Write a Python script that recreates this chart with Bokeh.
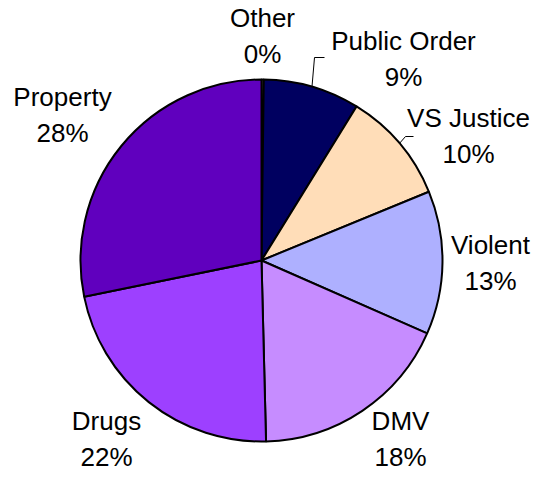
import math
from bokeh.plotting import figure
from bokeh.models import Range1d, ColumnDataSource
from bokeh.core.properties import value
from bokeh.embed import file_html
from bokeh.resources import INLINE

# ---- data ----
categories = ["Other", "Public Order", "VS Justice", "Violent", "DMV", "Drugs", "Property"]
shares = [0.2, 8.6, 10.0, 12.8, 18.0, 22.2, 28.2]
colors = ["#D8D8D8", "#000060", "#FFDDB8", "#AEB0FF", "#C68CFF", "#9D40FF", "#6000BE"]

# ---- layout (screen px, y down) ----
W, H = 537, 471
CX, CY, R = 261, 260, 181
label_pos = {
    "Other": (262, 35),
    "Public Order": (403, 58),
    "VS Justice": (468, 135),
    "Violent": (490, 262),
    "DMV": (400, 438),
    "Drugs": (106, 438),
    "Property": (62, 114),
}
leader_bend = {
    "Public Order": [(314, 57), (324, 57)],
    "VS Justice": [(405, 136), (413, 136)],
}

p = figure(width=W, height=H, output_backend="svg", toolbar_location=None,
           x_range=Range1d(0, W), y_range=Range1d(-H, 0),
           min_border=0)
p.axis.visible = False
p.grid.visible = False
p.outline_line_color = None
p.background_fill_color = "white"

total = sum(shares)
starts, ends, mids = [], [], []
cum = 0.0
for s in shares:
    a0 = cum / total * 2 * math.pi
    cum += s
    a1 = cum / total * 2 * math.pi
    starts.append(math.pi / 2 - a0)
    ends.append(math.pi / 2 - a1)
    mids.append((a0 + a1) / 2)

src = ColumnDataSource(dict(start=starts, end=ends, color=colors, cat=categories))
p.wedge(x=CX, y=-CY, radius=R, start_angle="start", end_angle="end",
        direction="clock", fill_color="color", line_color="black", line_width=2,
        source=src)

# labels
lx, ly, lt = [], [], []
for c, s in zip(categories, shares):
    x, y = label_pos[c]
    lx.append(x)
    ly.append(-y)
    lt.append(f"{c}\n{round(s)}%")
p.text(x=lx, y=ly, text=lt, text_align="center", text_baseline="middle",
       text_font=value("Liberation Sans"), text_font_size="26px",
       text_color="black", text_line_height=1.2)

# leader lines
for c, m in zip(categories, mids):
    if c in leader_bend:
        xs = [CX + R * math.sin(m)] + [pt[0] for pt in leader_bend[c]]
        ys = [-(CY - R * math.cos(m))] + [-pt[1] for pt in leader_bend[c]]
        p.line(xs, ys, line_color="black", line_width=1)

open("out.html", "w").write(file_html(p, INLINE))
